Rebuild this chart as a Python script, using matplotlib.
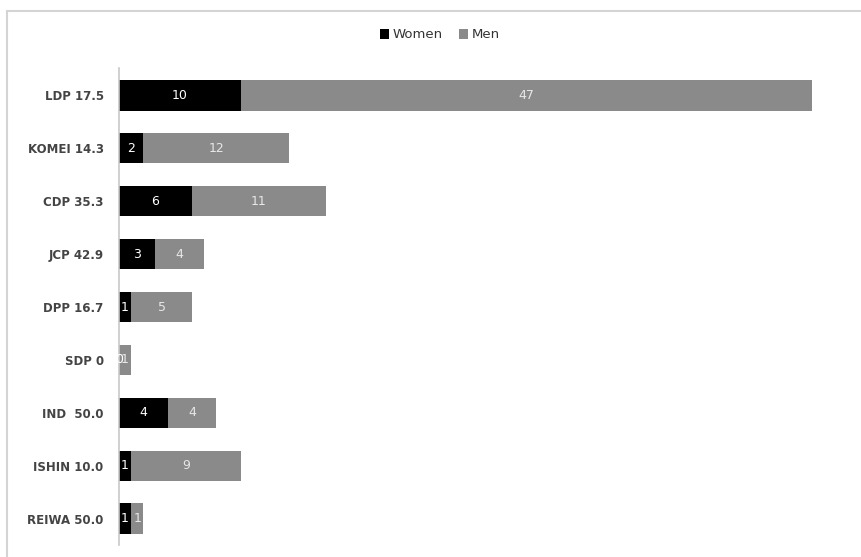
import matplotlib
matplotlib.use("Agg")
import matplotlib.pyplot as plt
from matplotlib.lines import Line2D

categories = ["LDP 17.5", "KOMEI 14.3", "CDP 35.3", "JCP 42.9", "DPP 16.7",
              "SDP 0", "IND  50.0", "ISHIN 10.0", "REIWA 50.0"]
women = [10, 2, 6, 3, 1, 0, 4, 1, 1]
men = [47, 12, 11, 4, 5, 1, 4, 9, 1]

fig = plt.figure(figsize=(8.61, 5.57), dpi=100)
# partial frame (top and left edges only, as in the cropped source image)
fig.lines.append(Line2D([7/861, 7/861], [0, 1-11/557], transform=fig.transFigure,
                        color="#d4d4d4", linewidth=1.5))
fig.lines.append(Line2D([7/861, 1], [1-11/557, 1-11/557], transform=fig.transFigure,
                        color="#d4d4d4", linewidth=1.5))

ax = fig.add_axes([119/861, 1-545/557, (835-119)/861, (545-68)/557])

y = list(range(len(categories)))
bw = ax.barh(y, women, height=0.57, color="#000000", label="Women")
bm = ax.barh(y, men, left=women, height=0.57, color="#8a8a8a", label="Men")

for i in y:
    ax.text(women[i]/2, i, str(women[i]), ha="center", va="center",
            color="white", fontsize=9)
    ax.text(women[i] + men[i]/2, i, str(men[i]), ha="center", va="center",
            color="#e8e8e8", fontsize=9)

ax.set_ylim(8.5, -0.52)
ax.set_xlim(0, 58.9)
ax.set_yticks(y)
ax.set_yticklabels(categories, fontsize=8.5, color="#444444", fontweight="bold")
ax.tick_params(axis="y", length=0, pad=11)
ax.set_xticks([])
for s in ["top", "right", "bottom"]:
    ax.spines[s].set_visible(False)
ax.spines["left"].set_color("#c8c8c8")
ax.spines["left"].set_linewidth(1.2)

fig.legend(handles=[bw, bm], labels=["Women", "Men"], loc="center",
           bbox_to_anchor=(440/861, 1-35/557), ncol=2, frameon=False,
           fontsize=9.5, handlelength=0.7, handleheight=0.7,
           handletextpad=0.3, columnspacing=1.2, labelcolor="#333333")

fig.savefig("out.png", dpi=100)
